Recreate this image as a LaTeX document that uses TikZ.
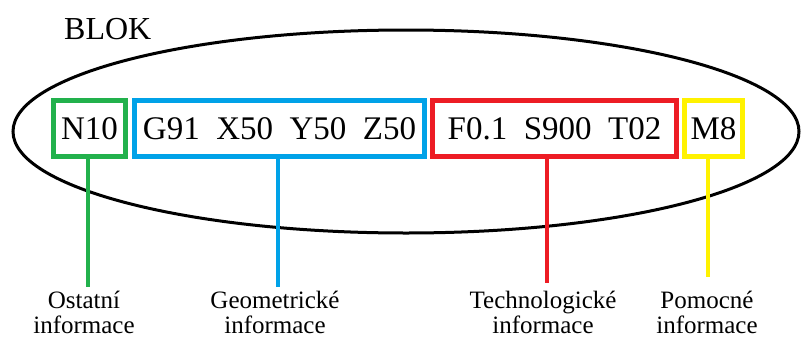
\documentclass[tikz,border=0pt]{standalone}
\usepackage{fontspec}
\setmainfont{Liberation Serif}
\definecolor{cgreen}{HTML}{22B14C}
\definecolor{cblue}{HTML}{00A2E8}
\definecolor{cred}{HTML}{ED1C24}
\definecolor{cyellow}{HTML}{FFF200}
\begin{document}
\begin{tikzpicture}[x=1pt,y=-1pt,
  codebox/.style={draw,line width=5pt,rectangle,inner sep=0pt,minimum height=56pt,
     font=\fontsize{33}{33}\selectfont},
  lbl/.style={align=center,inner sep=0pt,font=\fontsize{25}{25}\selectfont},
  conn/.style={line width=3.5pt}]
\useasboundingbox (0,0) rectangle (801,338);
\draw[line width=3pt] (406,131.5) ellipse [x radius=393, y radius=101.5];
\node[anchor=base west,inner sep=0pt,font=\fontsize{32}{32}\selectfont] (blok) at (64,39) {BLOK};
\node[codebox,draw=cgreen,minimum width=72pt] (n) at (89.5,128.5) {N10};
\node[codebox,draw=cblue,minimum width=290pt] (g) at (279.5,128.5) {G91\ \ X50\ \ Y50\ \ Z50};
\node[codebox,draw=cred,minimum width=244pt] (t) at (554.5,128.5) {F0.1\ \ S900\ \ T02};
\node[codebox,draw=cyellow,minimum width=58pt] (m) at (713.5,128.5) {M8};
\node[lbl] (ln) at (84,312) {Ostatní\\informace};
\node[lbl] (lg) at (275,312) {Geometrické\\informace};
\node[lbl] (lt) at (543,312) {Technologické\\informace};
\node[lbl] (lm) at (707,312) {Pomocné\\informace};
\coordinate (cn) at (88,287);
\coordinate (cg) at (278,287);
\coordinate (ct) at (547,283);
\coordinate (cm) at (708,277);
\draw[conn,cgreen] (cn |- n.south) -- (cn);
\draw[conn,cblue] (cg |- g.south) -- (cg);
\draw[conn,cred] (ct |- t.south) -- (ct);
\draw[conn,cyellow] (cm |- m.south) -- (cm);
\end{tikzpicture}
\end{document}
